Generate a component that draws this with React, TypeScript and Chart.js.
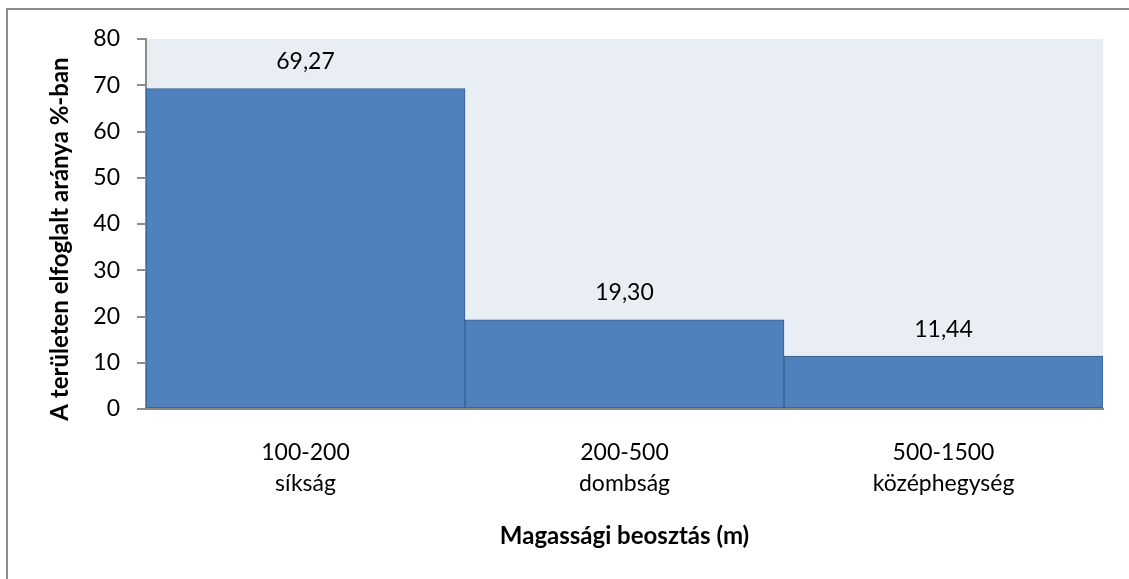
import React, { useEffect, useRef } from "react";
import { Chart, registerables } from "chart.js";

Chart.register(...registerables);

const categoryLines: string[][] = [
  ["100-200", "síkság"],
  ["200-500", "dombság"],
  ["500-1500", "középhegység"],
];
const shareValues: number[] = [69.27, 19.3, 11.44];
const yMin = 0;
const yMax = 80;
const yStep = 10;
const xTitle = "Magassági beosztás (m)";
const yTitle = "A területen elfoglalt aránya %-ban";

const FONT = "Lato, 'Open Sans', sans-serif";

const plotBgPlugin = {
  id: "plotBg",
  beforeDraw(chart: any) {
    const { ctx, chartArea } = chart;
    ctx.save();
    ctx.fillStyle = "#E9EDF4";
    ctx.fillRect(chartArea.left, chartArea.top, chartArea.right - chartArea.left, chartArea.bottom - chartArea.top);
    ctx.restore();
  },
};

const valueLabelPlugin = {
  id: "valueLabels",
  afterDatasetsDraw(chart: any) {
    const { ctx } = chart;
    const meta = chart.getDatasetMeta(0);
    ctx.save();
    ctx.font = `23px ${FONT}`;
    ctx.fillStyle = "#000";
    ctx.textAlign = "center";
    ctx.textBaseline = "middle";
    meta.data.forEach((bar: any, i: number) => {
      const v = shareValues[i];
      ctx.fillText(v.toFixed(2).replace(".", ","), bar.x, bar.y - 27);
    });
    ctx.restore();
  },
};

const yTitlePlugin = {
  id: "yTitle",
  afterDraw(chart: any) {
    const { ctx } = chart;
    ctx.save();
    ctx.font = `bold 24px ${FONT}`;
    ctx.fillStyle = "#000";
    ctx.textAlign = "center";
    ctx.textBaseline = "middle";
    ctx.translate(60, 239);
    ctx.rotate(-Math.PI / 2);
    ctx.fillText(yTitle, 0, 0);
    ctx.restore();
  },
};

export default function App() {
  const ref = useRef<HTMLCanvasElement | null>(null);

  useEffect(() => {
    if (!ref.current) return;
    const chart = new Chart(ref.current, {
      type: "bar",
      data: {
        labels: categoryLines,
        datasets: [
          {
            data: shareValues,
            backgroundColor: "#4F81BD",
            borderColor: "#385D8A",
            borderWidth: 1,
            borderSkipped: false,
            categoryPercentage: 1,
            barPercentage: 1,
          },
        ],
      },
      options: {
        responsive: false,
        animation: false,
        layout: { padding: { left: 0, right: 26, top: 39, bottom: 0 } },
        plugins: {
          legend: { display: false },
          tooltip: { enabled: false },
          title: { display: false },
        },
        scales: {
          x: {
            afterFit: (scale: any) => {
              scale.height = 170;
            },
            grid: { display: false, drawTicks: false },
            border: { display: true, color: "#8C8C8C", width: 2 },
            ticks: {
              color: "#000",
              padding: 28,
              maxRotation: 0,
              font: { family: FONT, size: 23, lineHeight: "31px" },
            },
            title: {
              display: true,
              text: xTitle,
              color: "#000",
              font: { family: FONT, size: 24, weight: "bold", lineHeight: 1.2 },
              padding: { top: 0, bottom: 28 },
            },
          },
          y: {
            min: yMin,
            max: yMax,
            afterFit: (scale: any) => {
              scale.width = 146;
            },
            grid: {
              display: true,
              drawOnChartArea: false,
              drawTicks: true,
              tickLength: 9,
              color: "#8C8C8C",
              lineWidth: 2,
            },
            border: { display: true, color: "#8C8C8C", width: 2 },
            ticks: {
              stepSize: yStep,
              color: "#000",
              padding: 17,
              font: { family: FONT, size: 23 },
            },
          },
        },
      },
      plugins: [plotBgPlugin, valueLabelPlugin, yTitlePlugin],
    });
    return () => chart.destroy();
  }, []);

  return (
    <div style={{ position: "fixed", left: 0, top: 0, width: 1129, height: 579, background: "#fff", overflow: "hidden" }}>
      <div
        style={{
          position: "absolute",
          left: 6,
          top: 8,
          width: 1200,
          height: 700,
          borderTop: "2px solid #8C8C8C",
          borderLeft: "2px solid #8C8C8C",
        }}
      />
      <canvas ref={ref} width={1129} height={579} style={{ position: "absolute", left: 0, top: 0 }} />
    </div>
  );
}
